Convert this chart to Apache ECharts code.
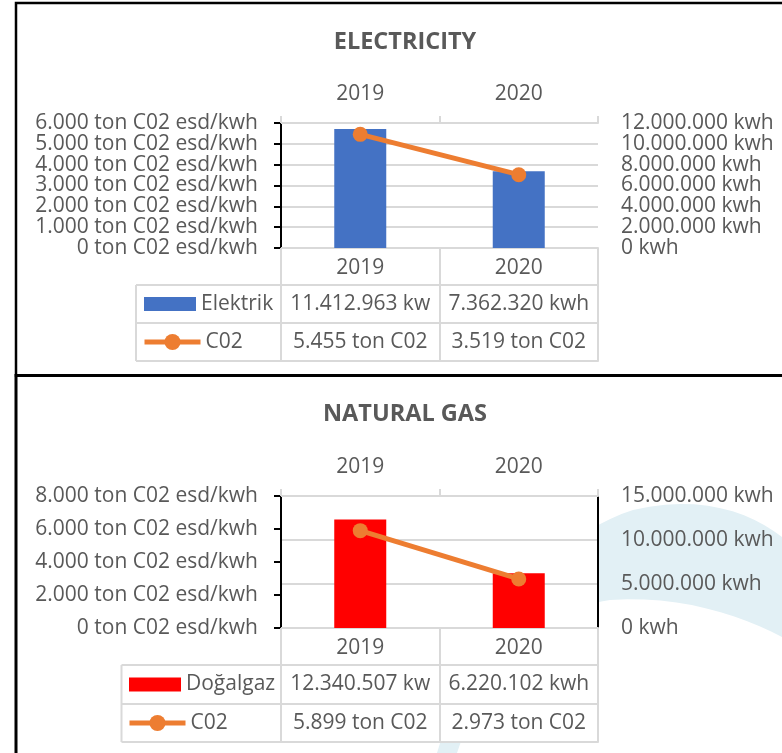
<!DOCTYPE html>
<html><head><meta charset="utf-8">
<script src="https://cdn.jsdelivr.net/npm/echarts@6/dist/echarts.min.js"></script>
<style>html,body{margin:0;padding:0;background:#fff}#c{width:782px;height:753px}</style>
</head><body><div id="c"></div>
<script>
// ---------- data ----------
const years = ['2019', '2020'];
const titles = ['ELECTRICITY', 'NATURAL GAS'];
const barNames = ['Elektrik', 'Doğalgaz'];
const lineName = 'C02';
const elektrikKwh = [11412963, 7362320];
const elektrikCO2 = [5455, 3519];
const dogalgazKwh = [12340507, 6220102];
const dogalgazCO2 = [5899, 2973];
const elecCO2Ticks = [0, 6000, 1000];      // min, max, interval (ton C02 esd/kwh)
const elecKwhTicks = [0, 12000000, 2000000];
const gasCO2Ticks = [0, 8000, 2000];
const gasKwhTicks = [0, 15000000, 5000000];
const co2AxisUnit = 'ton C02 esd/kwh';
const kwhUnit = 'kwh';
const co2Unit = 'ton C02';

// ---------- style / layout ----------
const FONT = 'Open Sans';
const GRAY = '#595959';
const LINE = '#d9d9d9';
const BAR_COLORS = ['#4472C4', '#FF0000'];
const ORANGE = '#ED7D31';
const panelData = [
  {kwh: elektrikKwh, co2: elektrikCO2, left: elecCO2Ticks, right: elecKwhTicks},
  {kwh: dogalgazKwh, co2: dogalgazCO2, left: gasCO2Ticks, right: gasKwhTicks}
];
const layout = [
  {top: 123, h: 125, rows: [37, 75, 113], colLeft: 136, keyLeft: 144, lineKeyLeft: 142, titleY: 42, rightLine: false, leftSplit: true},
  {top: 496, h: 132, rows: [37, 76, 114], colLeft: 121.5, keyLeft: 129, lineKeyLeft: 127, titleY: 414, rightLine: true, leftSplit: false}
];
const GL = 281, GW = 317;

function fmt(v) { return String(v).replace(/\B(?=(\d{3})+(?!\d))/g, '.'); }

// decorative watermark outline (cubic bezier segments, sampled)
function bez(p0, p1, p2, p3, n) {
  const out = [];
  for (let i = 0; i <= n; i++) {
    const t = i / n, u = 1 - t;
    out.push([
      u*u*u*p0[0] + 3*u*u*t*p1[0] + 3*u*t*t*p2[0] + t*t*t*p3[0],
      u*u*u*p0[1] + 3*u*u*t*p1[1] + 3*u*t*t*p2[1] + t*t*t*p3[1]
    ]);
  }
  return out;
}
const swoosh = [].concat(
  bez([437,753],[470,640],[540,540],[633,510],24),
  bez([633,510],[700,494],[750,512],[782,537],12),
  bez([782,637],[740,615],[680,595],[610,600],12),
  bez([610,600],[540,610],[480,680],[457,753],24)
);

const labelBase = {color: GRAY, fontFamily: FONT, fontSize: 21, lineHeight: 24, interval: 0, hideOverlap: false};
const yLabelBase = {color: GRAY, fontFamily: FONT, fontSize: 21, lineHeight: 20, hideOverlap: false, showMinLabel: true, showMaxLabel: true};
const grids = [], xAxes = [], yAxes = [], series = [], legends = [], graphics = [];

layout.forEach((L, g) => {
  const D = panelData[g];
  grids.push({left: GL, width: GW, top: L.top, height: L.h, show: true, backgroundColor: '#fff', borderWidth: 0});
  const base = (extra) => Object.assign({
    type: 'category', data: years, gridIndex: g, boundaryGap: true,
    axisLine: {show: true, onZero: false, lineStyle: {color: LINE, width: 2}},
    splitLine: {show: false}
  }, extra);
  const xi = xAxes.length;
  xAxes.push(base({position: 'top', axisTick: {show: true, length: 7, lineStyle: {color: LINE, width: 2}},
    axisLabel: Object.assign({margin: 17}, labelBase)}));
  xAxes.push(base({position: 'bottom', offset: 0, axisTick: {show: true, length: L.rows[0], lineStyle: {color: LINE, width: 2}},
    axisLabel: Object.assign({margin: 8}, labelBase)}));
  xAxes.push(base({position: 'bottom', offset: L.rows[0], axisTick: {show: true, length: L.rows[1] - L.rows[0], lineStyle: {color: LINE, width: 2}},
    axisLabel: Object.assign({margin: 7, width: 146, overflow: 'truncate', ellipsis: '',
      formatter: (v, i) => fmt(D.kwh[i]) + ' ' + kwhUnit}, labelBase)}));
  xAxes.push(base({position: 'bottom', offset: L.rows[1], axisTick: {show: true, length: L.rows[2] - L.rows[1], lineStyle: {color: LINE, width: 2}},
    axisLabel: Object.assign({margin: 7, formatter: (v, i) => fmt(D.co2[i]) + ' ' + co2Unit}, labelBase)}));
  xAxes.push(base({position: 'bottom', offset: L.rows[2], axisTick: {show: false}, axisLabel: {show: false}}));

  const yi = yAxes.length;
  yAxes.push({type: 'value', gridIndex: g, position: 'left', min: D.left[0], max: D.left[1], interval: D.left[2],
    axisLine: {show: true, lineStyle: {color: '#000', width: 2}},
    axisTick: {show: true, length: 7, lineStyle: {color: '#000', width: 2}},
    axisLabel: Object.assign({}, yLabelBase, {margin: 23, formatter: v => fmt(v) + ' ' + co2AxisUnit}),
    splitLine: {show: L.leftSplit, lineStyle: {color: LINE, width: 2}}});
  yAxes.push({type: 'value', gridIndex: g, position: 'right', min: D.right[0], max: D.right[1], interval: D.right[2],
    axisLine: {show: L.rightLine, lineStyle: {color: '#000', width: 2}},
    axisTick: {show: false},
    axisLabel: Object.assign({}, yLabelBase, {margin: 23, formatter: v => fmt(v) + ' ' + kwhUnit}),
    splitLine: {show: !L.leftSplit, lineStyle: {color: LINE, width: 2}}});

  series.push({type: 'bar', name: barNames[g], xAxisIndex: xi + 1, yAxisIndex: yi + 1, data: D.kwh,
    barWidth: 52, itemStyle: {color: BAR_COLORS[g]}, z: 3});
  series.push({type: 'line', name: lineName, xAxisIndex: xi + 1, yAxisIndex: yi, data: D.co2,
    symbol: 'circle', symbolSize: 15, lineStyle: {width: 5, color: ORANGE}, itemStyle: {color: ORANGE}, z: 4});

  const r0 = L.top + L.h + L.rows[0], r1 = L.top + L.h + L.rows[1], r2 = L.top + L.h + L.rows[2];
  legends.push({data: [barNames[g]], left: L.keyLeft, top: (r0 + r1) / 2 - 13, padding: 0, icon: 'rect',
    itemWidth: 52, itemHeight: 14, itemGap: 0, selectedMode: false,
    textStyle: {color: GRAY, fontFamily: FONT, fontSize: 21, lineHeight: 26}});
  legends.push({data: [lineName], left: L.lineKeyLeft, top: (r1 + r2) / 2 - 13, padding: 0,
    itemWidth: 56, itemHeight: 20, itemGap: 0, selectedMode: false,
    lineStyle: {width: 5, color: ORANGE}, itemStyle: {color: ORANGE},
    textStyle: {color: GRAY, fontFamily: FONT, fontSize: 21, lineHeight: 26}});

  graphics.push({type: 'rect', z: -5, shape: {x: GL, y: L.top + L.h, width: GW, height: L.rows[2]}, style: {fill: '#fff'}});
  [r0, r1, r2].forEach(y => graphics.push({type: 'line', z: 5, shape: {x1: L.colLeft, y1: y, x2: GL, y2: y}, style: {stroke: LINE, lineWidth: 2}}));
  graphics.push({type: 'line', z: 5, shape: {x1: L.colLeft, y1: r0, x2: L.colLeft, y2: r2}, style: {stroke: LINE, lineWidth: 2}});
  graphics.push({type: 'text', z: 5, x: 405, y: L.titleY, style: {text: titles[g], fill: GRAY, fontFamily: FONT, fontWeight: 'bold', fontSize: 23.5, align: 'center', verticalAlign: 'middle'}});
});

graphics.unshift({type: 'polygon', z: -10, shape: {points: swoosh}, style: {fill: '#e2f0f5'}});
graphics.push({type: 'rect', z: 20, shape: {x: 16, y: 3, width: 800, height: 372.5}, style: {fill: 'none', stroke: '#000', lineWidth: 2.5}});
graphics.push({type: 'rect', z: 20, shape: {x: 16, y: 375.5, width: 800, height: 400}, style: {fill: 'none', stroke: '#000', lineWidth: 3}});

const chart = echarts.init(document.getElementById('c'), null, {renderer: 'canvas'});
chart.setOption({
  animation: false,
  backgroundColor: '#fff',
  textStyle: {fontFamily: FONT},
  grid: grids, xAxis: xAxes, yAxis: yAxes, series: series, legend: legends,
  graphic: graphics
});
</script></body></html>
